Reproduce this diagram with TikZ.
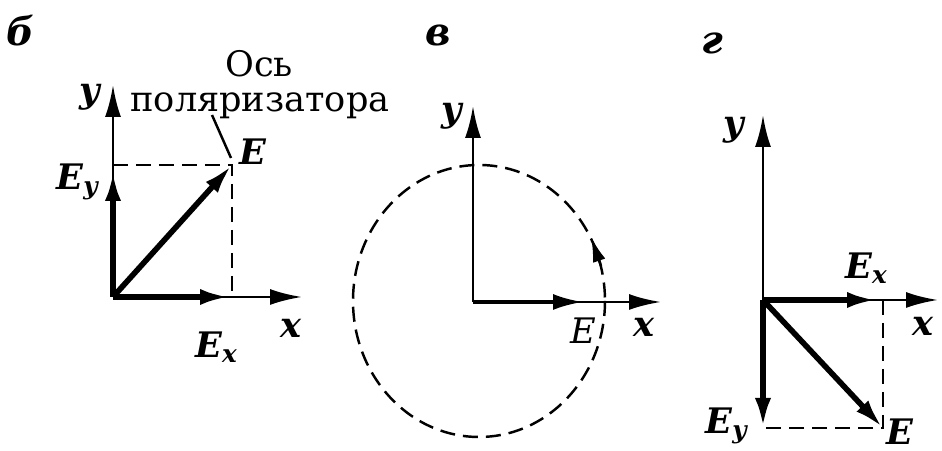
\documentclass[tikz,border=0pt]{standalone}
\usepackage{fontspec}
\setmainfont{DejaVu Serif}
\usetikzlibrary{arrows.meta}

\newcommand\vlab[1]{\textbf{\textit{#1}}}

\begin{document}
\begin{tikzpicture}[x=0.1mm,y=-0.1mm,
    axis/.style={line width=0.8pt,-{Latex[length=3.2mm,width=1.6mm]}},
    vec/.style={line width=1.6pt,-{Latex[length=3mm,width=1.6mm]}},
    proj/.style={line width=0.7pt,dash pattern=on 1.5mm off 0.8mm},
    lbl/.style={inner sep=0pt,font=\fontsize{10}{11}\selectfont},
    panel/.style={inner sep=0pt,font=\fontsize{11}{12}\selectfont\bfseries\itshape}]
    \useasboundingbox (0,0) rectangle (942,451);
    % panel b
    \coordinate (O1) at (113,297);
    \coordinate (Y1) at (113,85);
    \coordinate (X1) at (302,297);
    \coordinate (E1) at (232,165);
    \coordinate (Ey1) at (113,171);
    \coordinate (Ex1) at (230,297);
    \coordinate (Py1) at (113,165);
    \coordinate (Px1) at (232,297);
    \draw[axis] (O1) -- (Y1);
    \draw[axis] (O1) -- (X1);
    \draw[proj] (Py1) -- (E1) -- (Px1);
    \draw[vec] (O1) -- (Ey1);
    \draw[vec] (O1) -- (Ex1);
    \draw[vec] (O1) -- (E1);
    \coordinate (L1) at (212,115);
    \coordinate (L2) at (231,158);
    \draw[line width=0.7pt] (L1) -- (L2);
    \node[panel] (b) at (20,31) {б};
    \node[lbl] (yb) at (91,97) {\vlab{y}};
    \node[lbl] (xb) at (291,328) {\vlab{x}};
    \node[lbl] (Eb) at (253,152) {\vlab{E}};
    \node[lbl] (Eyb) at (78,182) {\vlab{E\textsubscript{y}}};
    \node[lbl] (Exb) at (217,347) {\vlab{E\textsubscript{x}}};
    \node[lbl] (os) at (259,64) {Ось};
    \node[lbl] (pol) at (260,106) {поляризатора};
    % panel v
    \coordinate (O2) at (473,302);
    \coordinate (Y2) at (473,106);
    \coordinate (X2) at (661,302);
    \coordinate (E2) at (583,302);
    \coordinate (C2) at (479,301);
    \draw[proj] (C2) ellipse [x radius=126,y radius=136];
    \draw[axis] (O2) -- (Y2);
    \draw[axis] (O2) -- (X2);
    \draw[line width=1pt,-{Latex[length=3mm,width=1.6mm]}] (O2) -- (E2);
    \coordinate (R1) at (601,266);
    \coordinate (R2) at (591,237);
    \draw[line width=0.7pt,-{Latex[length=2.5mm,width=1.3mm]}] (R1) -- (R2);
    \node[panel] (v) at (438,35) {в};
    \node[lbl] (yv) at (453,116) {\vlab{y}};
    \node[lbl] (xv) at (644,327) {\vlab{x}};
    \node[lbl] (Ev) at (583,331) {\textit{E}};
    % panel g
    \coordinate (O3) at (763,300);
    \coordinate (Y3) at (763,115);
    \coordinate (X3) at (938,300);
    \coordinate (E3) at (883,428);
    \coordinate (Ex3) at (877,300);
    \coordinate (Ey3) at (763,428);
    \coordinate (Px3) at (883,300);
    \draw[axis] (O3) -- (Y3);
    \draw[axis] (O3) -- (X3);
    \draw[proj] (Px3) -- (E3) -- (Ey3);
    \draw[vec] (O3) -- (Ex3);
    \draw[vec] (O3) -- (Ey3);
    \draw[vec] (O3) -- (E3);
    \node[panel] (g) at (712,43) {г};
    \node[lbl] (yg) at (735,130) {\vlab{y}};
    \node[lbl] (xg) at (923,326) {\vlab{x}};
    \node[lbl] (Exg) at (867,268) {\vlab{E\textsubscript{x}}};
    \node[lbl] (Eyg) at (727,426) {\vlab{E\textsubscript{y}}};
    \node[lbl] (Eg) at (900,432) {\vlab{E}};
\end{tikzpicture}
\end{document}
